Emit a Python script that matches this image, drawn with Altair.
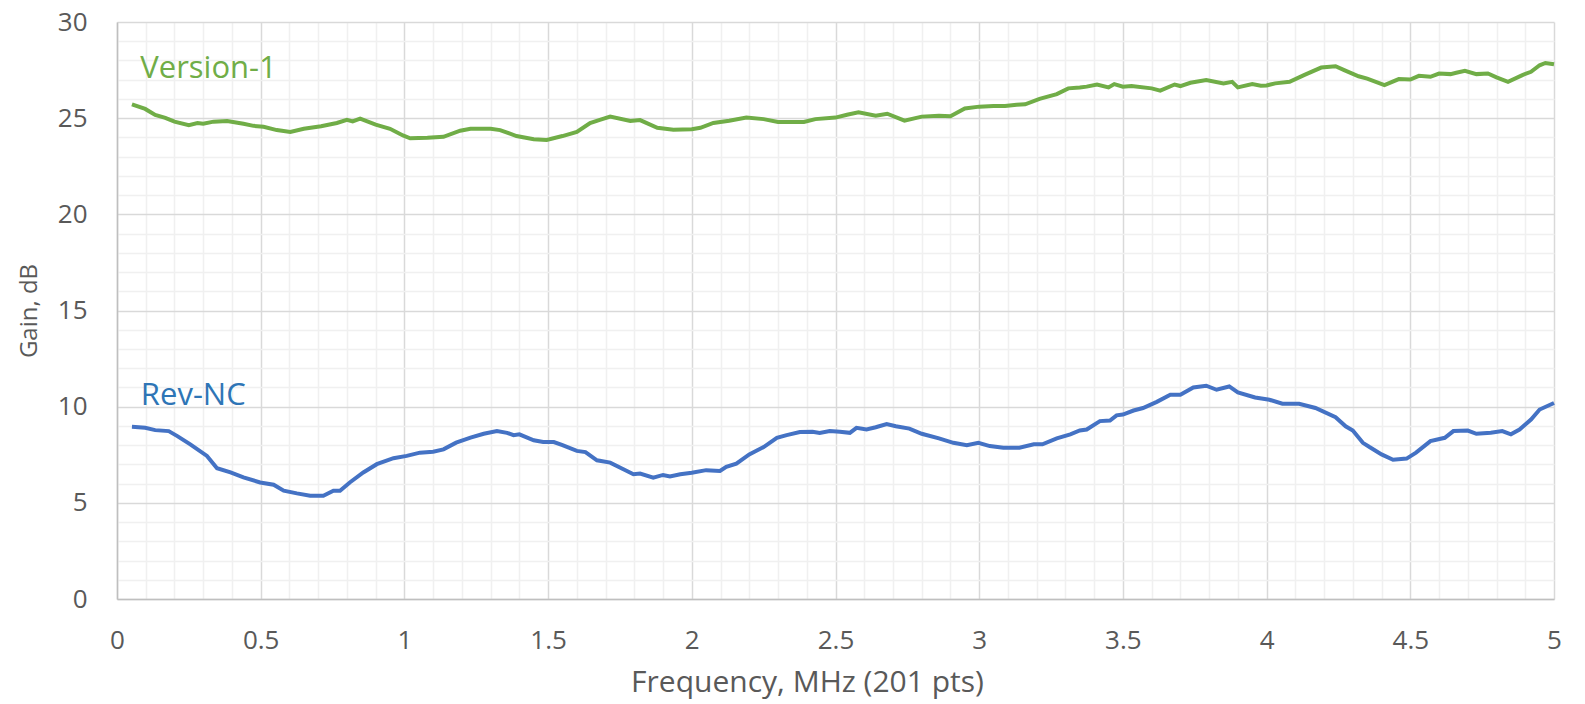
import altair as alt
import pandas as pd

# Version-1 (green) readings
v1_freq = [0.052, 0.098, 0.133, 0.168, 0.20, 0.25, 0.28, 0.30, 0.336, 0.383, 0.44, 0.475,
           0.51, 0.556, 0.603, 0.65, 0.71, 0.765, 0.80, 0.82, 0.846, 0.90, 0.95, 0.995,
           1.02, 1.08, 1.136, 1.194, 1.23, 1.30, 1.333, 1.39, 1.45, 1.495, 1.55, 1.60,
           1.646, 1.68, 1.716, 1.786, 1.82, 1.88, 1.936, 2.0, 2.03, 2.075, 2.13, 2.19,
           2.25, 2.30, 2.36, 2.39, 2.43, 2.5, 2.54, 2.58, 2.64, 2.68, 2.74, 2.80, 2.86,
           2.90, 2.95, 3.0, 3.05, 3.09, 3.13, 3.16, 3.21, 3.27, 3.31, 3.35, 3.374, 3.41,
           3.45, 3.47, 3.5, 3.53, 3.60, 3.63, 3.68, 3.70, 3.735, 3.79, 3.85, 3.88, 3.90,
           3.95, 3.98, 4.0, 4.03, 4.08, 4.13, 4.19, 4.24, 4.27, 4.32, 4.35, 4.41, 4.46,
           4.5, 4.53, 4.57, 4.60, 4.64, 4.66, 4.69, 4.73, 4.77, 4.80, 4.84, 4.89, 4.92,
           4.95, 4.97, 5.0]
v1_gain = [25.72, 25.48, 25.17, 25.02, 24.82, 24.64, 24.75, 24.71, 24.82, 24.85, 24.71, 24.6,
           24.55, 24.38, 24.28, 24.45, 24.58, 24.75, 24.91, 24.83, 24.98, 24.66, 24.45, 24.1,
           23.95, 23.98, 24.03, 24.35, 24.45, 24.45, 24.38, 24.07, 23.9, 23.87, 24.07, 24.28,
           24.75, 24.91, 25.08, 24.85, 24.9, 24.5, 24.4, 24.43, 24.5, 24.75, 24.87, 25.03,
           24.95, 24.8, 24.8, 24.8, 24.95, 25.03, 25.18, 25.3, 25.13, 25.23, 24.87, 25.08, 25.13,
           25.1, 25.5, 25.6, 25.63, 25.63, 25.7, 25.72, 26.0, 26.25, 26.55, 26.6, 26.64, 26.75,
           26.6, 26.77, 26.64, 26.67, 26.55, 26.43, 26.75, 26.67, 26.84, 26.98, 26.81, 26.89, 26.6,
           26.77, 26.69, 26.70, 26.81, 26.89, 27.24, 27.63, 27.70, 27.5, 27.18, 27.06, 26.72, 27.03,
           27.01, 27.2, 27.15, 27.32, 27.29, 27.36, 27.46, 27.29, 27.32, 27.12, 26.89, 27.24, 27.41,
           27.75, 27.87, 27.8]

# Rev-NC (blue) readings
nc_freq = [0.052, 0.098, 0.133, 0.18, 0.21, 0.255, 0.313, 0.348, 0.395, 0.44, 0.498, 0.545,
           0.58, 0.626, 0.672, 0.718, 0.753, 0.776, 0.81, 0.857, 0.904, 0.962, 1.008, 1.054,
           1.10, 1.136, 1.18, 1.23, 1.276, 1.322, 1.357, 1.38, 1.40, 1.45, 1.483, 1.52, 1.55,
           1.60, 1.63, 1.67, 1.716, 1.762, 1.797, 1.82, 1.866, 1.90, 1.924, 1.96, 2.0, 2.05,
           2.098, 2.12, 2.155, 2.20, 2.25, 2.296, 2.33, 2.376, 2.42, 2.445, 2.48, 2.515, 2.55,
           2.573, 2.608, 2.64, 2.678, 2.71, 2.757, 2.80, 2.86, 2.91, 2.957, 2.997, 3.037, 3.084,
           3.14, 3.19, 3.22, 3.27, 3.317, 3.35, 3.374, 3.42, 3.455, 3.478, 3.5, 3.537, 3.57,
           3.618, 3.665, 3.70, 3.745, 3.79, 3.826, 3.87, 3.90, 3.96, 4.01, 4.055, 4.113, 4.17,
           4.24, 4.275, 4.3, 4.335, 4.358, 4.40, 4.44, 4.487, 4.52, 4.57, 4.62, 4.65, 4.70,
           4.73, 4.78, 4.82, 4.85, 4.88, 4.92, 4.95, 5.0]
nc_gain = [8.95, 8.9, 8.78, 8.73, 8.47, 8.04, 7.44, 6.8, 6.58, 6.32, 6.06, 5.94,
           5.63, 5.49, 5.37, 5.37, 5.63, 5.63, 6.06, 6.58, 7.01, 7.32, 7.44, 7.61,
           7.66, 7.78, 8.13, 8.39, 8.59, 8.73, 8.64, 8.52, 8.56, 8.25, 8.16, 8.16, 8.0,
           7.7, 7.64, 7.21, 7.09, 6.75, 6.49, 6.52, 6.31, 6.45, 6.37, 6.49, 6.56, 6.7,
           6.66, 6.87, 7.04, 7.52, 7.9, 8.38, 8.52, 8.68, 8.69, 8.63, 8.73, 8.69, 8.64,
           8.9, 8.81, 8.93, 9.1, 8.98, 8.86, 8.59, 8.35, 8.12, 7.99, 8.12, 7.95, 7.87,
           7.87, 8.04, 8.04, 8.35, 8.56, 8.76, 8.81, 9.25, 9.28, 9.55, 9.59, 9.8, 9.93,
           10.25, 10.62, 10.62, 11.0, 11.09, 10.88, 11.05, 10.74, 10.48, 10.36, 10.15, 10.15, 9.93,
           9.45, 8.98, 8.76, 8.12, 7.9, 7.52, 7.24, 7.3, 7.61, 8.21, 8.38, 8.73, 8.76,
           8.59, 8.64, 8.73, 8.56, 8.81, 9.33, 9.85, 10.19]

series_names = ["Version-1", "Rev-NC"]
series_colors = ["#70AD47", "#4472C4"]
label_colors = ["#70AD47", "#2E75B6"]
label_freq = [0.081, 0.083]
label_gain = [27.1, 10.1]

x_ticks = [round(i * 0.1, 1) for i in range(51)]
y_ticks = list(range(31))

df = pd.concat([
    pd.DataFrame({"freq": v1_freq, "gain": v1_gain, "series": series_names[0]}),
    pd.DataFrame({"freq": nc_freq, "gain": nc_gain, "series": series_names[1]}),
])
labels_df = pd.DataFrame({"freq": label_freq, "gain": label_gain,
                          "series": series_names, "color": label_colors})

FONT = "Open Sans"
GRID_MAJOR = "#D9D9D9"
GRID_MINOR = "#F0F0F0"
TXT = "#595959"

PLOT_W = 1437
PLOT_H = 577

x_major = "abs(datum.value*2 - round(datum.value*2)) < 1e-6"
y_major = "datum.value % 5 == 0"

x_enc = alt.X("freq:Q", scale=alt.Scale(domain=[0, 5], nice=False),
              axis=alt.Axis(values=x_ticks, tickCount=200, format="~g",
                            title="Frequency, MHz (201 pts)",
                            labelExpr=x_major + " ? datum.label : ''",
                            gridColor={"condition": {"test": x_major, "value": GRID_MAJOR},
                                       "value": GRID_MINOR},
                            gridWidth=1.5, ticks=False, labelPadding=28,
                            titleX=690, titleY=92, titleAlign="center",
                            titleBaseline="alphabetic",
                            labelFontSize=26, titleFontSize=30, labelFlush=False,
                            labelOverlap=False, labelFont=FONT, titleFont=FONT,
                            labelColor=TXT, titleColor=TXT, titleFontWeight="normal",
                            domainColor="#BFBFBF", domainWidth=1.5))
y_enc = alt.Y("gain:Q", scale=alt.Scale(domain=[0, 30], nice=False),
              axis=alt.Axis(values=y_ticks, tickCount=200, format="d",
                            title="Gain, dB",
                            labelExpr=y_major + " ? datum.label : ''",
                            gridColor={"condition": {"test": y_major, "value": GRID_MAJOR},
                                       "value": GRID_MINOR},
                            gridWidth=1.5, ticks=False, labelPadding=30, titlePadding=16,
                            labelFontSize=26, titleFontSize=24, labelFlush=False,
                            labelOverlap=False, labelFont=FONT, titleFont=FONT,
                            labelColor=TXT, titleColor=TXT, titleFontWeight="normal",
                            domainColor="#BFBFBF", domainWidth=1.5))

lines = alt.Chart(df).mark_line(strokeWidth=4, interpolate="linear").encode(
    x=x_enc, y=y_enc,
    color=alt.Color("series:N", scale=alt.Scale(domain=series_names, range=series_colors), legend=None),
    detail="series:N",
)

texts = alt.Chart(labels_df).mark_text(align="left", baseline="alphabetic", fontSize=31, font=FONT).encode(
    x="freq:Q", y="gain:Q", text="series:N",
    color=alt.Color("color:N", scale=None),
)

chart = alt.layer(lines, texts).properties(
    width=PLOT_W, height=PLOT_H,
    background="white",
    autosize=alt.AutoSizeParams(type="none"),
    padding={"left": 109, "top": 14, "right": 20, "bottom": 103},
).configure_view(stroke=None)

chart.save("out.html", embed_options={"renderer": "svg", "actions": False})
